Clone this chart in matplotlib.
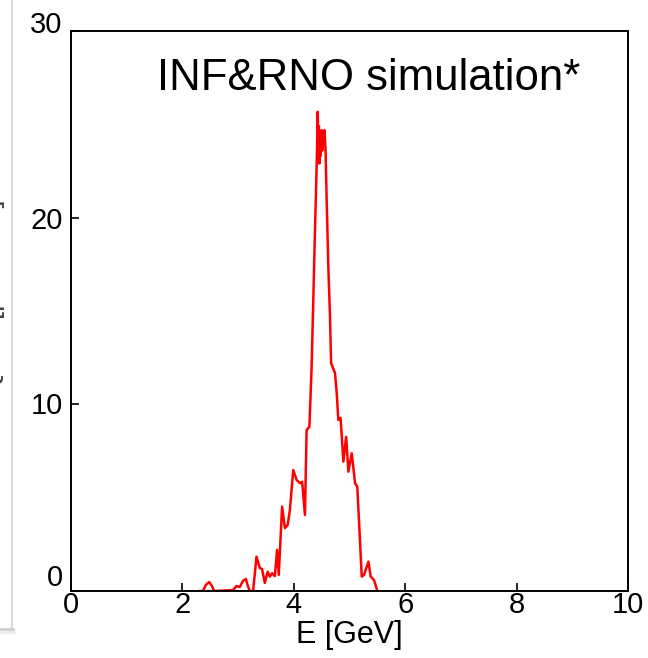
import matplotlib
matplotlib.use("Agg")
import matplotlib.pyplot as plt
from matplotlib.lines import Line2D
from matplotlib.transforms import ScaledTranslation

plt.rcParams['font.family'] = ['Liberation Sans', 'DejaVu Sans']

# Data (energy in GeV, spectrum in arbitrary units)
energy = [2.30, 2.37, 2.42, 2.48, 2.53, 2.57, 2.91, 2.97, 3.03, 3.09, 3.14, 3.17,
          3.21, 3.27, 3.33, 3.39, 3.43, 3.48, 3.53, 3.57, 3.61, 3.66, 3.70, 3.73,
          3.79, 3.84, 3.89, 3.93, 3.99, 4.05, 4.11, 4.15, 4.20, 4.23, 4.28, 4.32,
          4.35, 4.37, 4.41, 4.43, 4.44, 4.45, 4.46, 4.47, 4.48, 4.50, 4.51, 4.53,
          4.55, 4.57, 4.59, 4.62, 4.65, 4.67, 4.74, 4.77, 4.80, 4.84, 4.89, 4.94,
          4.98, 5.04, 5.10, 5.14, 5.22, 5.26, 5.34, 5.38, 5.44, 5.50]
spectrum = [0.0, 0.0, 0.32, 0.48, 0.27, 0.0, 0.05, 0.27, 0.21, 0.55, 0.64, 0.32,
            0.0, 0.0, 1.84, 1.23, 1.18, 0.43, 1.03, 0.77, 0.95, 0.80, 2.20, 0.86,
            4.52, 3.37, 3.54, 4.34, 6.48, 5.95, 5.78, 5.85, 4.07, 8.62, 8.80, 12.01,
            15.59, 18.10, 22.73, 25.67, 23.2, 24.9, 22.9, 24.6, 23.3, 24.69, 23.6, 24.33,
            24.69, 23.62, 20.94, 17.37, 14.69, 12.20, 11.68, 10.61, 9.16, 9.27, 6.93, 8.26,
            6.39, 7.38, 5.77, 5.59, 0.77, 0.86, 1.57, 0.77, 0.59, 0.0]

xticks = [0, 2, 4, 6, 8, 10]
yticks = [0, 10, 20, 30]
title_text = "INF&RNO simulation*"
xlabel_text = "E [GeV]"
ylabel_text = "dQ/dE [pC/GeV]"

W, H = 648, 658
fig = plt.figure(figsize=(W / 100, H / 100), dpi=100)
fig.patch.set_facecolor('white')

ax = fig.add_axes([71 / W, 1 - 591 / H, (628 - 71) / W, (591 - 31) / H])
ax.plot(energy, spectrum, color='#ff0000', lw=1.8, zorder=2)

ax.set_xlim(0, 10)
ax.set_ylim(0, 30)
ax.set_xticks(xticks)
ax.set_yticks(yticks)
ax.set_xticklabels([str(t) for t in xticks])
ax.set_yticklabels([str(t) for t in yticks])
for s in ax.spines.values():
    s.set_linewidth(1.4)
    s.set_color('black')
    s.set_zorder(3)
ax.tick_params(direction='in', length=6, width=1.2, labelsize=21,
               top=False, right=False)
ax.tick_params(axis='x', pad=0)
ax.tick_params(axis='y', pad=6)
# vertical offsets (pixels) of the y tick labels as seen in the reference
y_label_shift = [16, 1, 0, 9]
for lab, dy in zip(ax.get_yticklabels(), y_label_shift):
    lab.set_transform(lab.get_transform() + ScaledTranslation(0, dy / 100, fig.dpi_scale_trans))

ax.text(0.155, 0.915, title_text, transform=ax.transAxes, fontsize=31.5,
        ha='left', va='center', color='black')
ax.set_xlabel(xlabel_text, fontsize=22, labelpad=1)

# cut-off left panel with its y-axis label
fig.text(5 / W, 1 - 305 / H, ylabel_text, rotation=90, ha='right', va='center',
         fontsize=21, color='#444444')
fig.add_artist(Line2D([12 / W, 12 / W], [1 - 628 / H, 1.0], transform=fig.transFigure,
                      color='#dcdcdc', lw=1.6))
fig.add_artist(Line2D([0, 13 / W], [1 - 629 / H, 1 - 629 / H], transform=fig.transFigure,
                      color='#cfcfcf', lw=2.0))
fig.add_artist(Line2D([0, 14 / W], [1 - 631.5 / H, 1 - 631.5 / H], transform=fig.transFigure,
                      color='#ececec', lw=2.0))

fig.savefig('out.png', dpi=100)
